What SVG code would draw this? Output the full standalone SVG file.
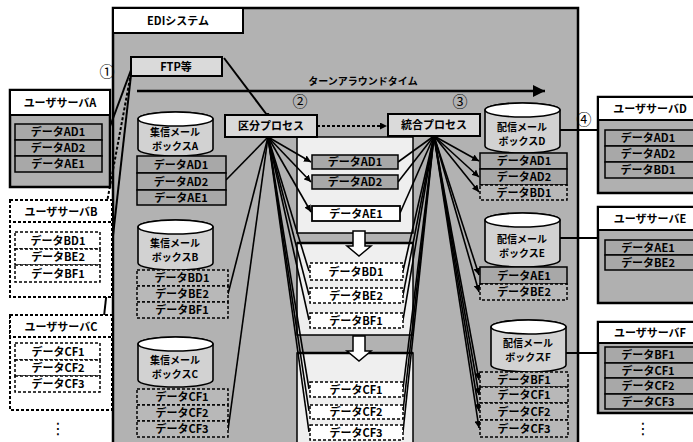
<svg xmlns="http://www.w3.org/2000/svg" width="693" height="442" viewBox="0 0 693 442">
<defs>
<marker id="ah" viewBox="0 0 10 10" refX="10" refY="5" markerWidth="7" markerHeight="7" orient="auto" markerUnits="userSpaceOnUse"><path d="M0,0 L10,5 L0,10 z" fill="#000"/></marker>
<marker id="ahb" viewBox="0 0 10 10" refX="10" refY="5" markerWidth="12" markerHeight="12" orient="auto" markerUnits="userSpaceOnUse"><path d="M0,0 L10,5 L0,10 z" fill="#000"/></marker>
<marker id="dot" viewBox="0 0 10 10" refX="5" refY="5" markerWidth="5" markerHeight="5" markerUnits="userSpaceOnUse"><circle cx="5" cy="5" r="5" fill="#000"/></marker>
</defs>
<style>
.t{font-family:"Noto Sans CJK JP","Noto Sans",sans-serif;font-weight:bold;font-size:11px;text-anchor:middle;fill:#000}
.s{font-size:10px}
.c{font-family:"Noto Sans CJK JP","DejaVu Sans",sans-serif;font-size:15px;text-anchor:middle;fill:#000}
.v{font-family:"DejaVu Sans",sans-serif;font-size:16px;text-anchor:middle;fill:#000}
.row{fill:#a8a8a8;stroke:#000;stroke-width:1.5}
.rowd{fill:#b8b8b8;stroke:#000;stroke-width:1.5;stroke-dasharray:3 2}
.roww{fill:#fff;stroke:#000;stroke-width:1.8}
.rowwd{fill:#fff;stroke:#000;stroke-width:1.5;stroke-dasharray:3 2}
.ttl{fill:#fff;stroke:#000;stroke-width:2}
.ttld{fill:#fff;stroke:#000;stroke-width:2;stroke-dasharray:3 2}
.body{fill:#b0b0b0;stroke:#000;stroke-width:2.5}
.bodyd{fill:#fff;stroke:#000;stroke-width:2;stroke-dasharray:3 2}
.cyl{fill:#d2d2d2;stroke:#000;stroke-width:1.6}
.cyltop{fill:#fff;stroke:#000;stroke-width:1.6}
.proc{fill:#dadada;stroke:#000;stroke-width:2}
.sec{fill:#efefef;stroke:#000;stroke-width:1.5}
.fan{stroke:#000;stroke-width:1.6;fill:none}
.ln{stroke:#000;stroke-width:2;fill:none}
</style>

<!-- EDI system frame -->
<g id="n-edi">
<rect x="113" y="8" width="465" height="445" fill="#b2b2b2" stroke="#000" stroke-width="2.5"/>
<rect x="113" y="8" width="130" height="25" class="ttl"/>
<text x="178" y="25" class="t">EDIシステム</text>
</g>

<!-- middle panel -->
<g id="n-panel">
<rect x="297" y="137" width="116" height="96" class="sec"/>
<rect x="297" y="243" width="116" height="92" class="sec"/>
<rect x="297" y="353" width="116" height="95" class="sec"/>
<line x1="297" y1="243" x2="413" y2="243" stroke="#000" stroke-width="2.5"/>
<line x1="297" y1="353" x2="413" y2="353" stroke="#000" stroke-width="2.5"/>
<path d="M353,231 H365 V246 H371 L359,256 L347,246 H353 Z" fill="#fff" stroke="#000" stroke-width="1.5"/>
<path d="M353,336 H365 V351 H371 L359,361 L347,351 H353 Z" fill="#fff" stroke="#000" stroke-width="1.5"/>
</g>

<!-- connectors -->
<g id="connectors">
<line x1="137" y1="91" x2="545" y2="91" stroke="#000" stroke-width="2.5" marker-end="url(#ahb)"/>
<line x1="224" y1="58" x2="267" y2="115" class="ln" marker-end="url(#dot)"/>
<line x1="131" y1="70" x2="102" y2="148" class="ln"/>
<line x1="131" y1="73" x2="100" y2="240" class="ln" stroke-dasharray="3 2"/>
<line x1="131" y1="75" x2="100" y2="352" class="ln"/>
<line x1="317" y1="126" x2="387" y2="126" class="ln" stroke-dasharray="3 2" marker-end="url(#ah)"/>
<!-- from sorting process -->
<line x1="268" y1="137" x2="226" y2="180" class="fan"/>
<line x1="268" y1="137" x2="228" y2="294" class="fan"/>
<line x1="268" y1="137" x2="228" y2="430" class="fan"/>
<line x1="268" y1="137" x2="311" y2="162" class="fan" marker-end="url(#ah)"/>
<line x1="268" y1="137" x2="311" y2="182" class="fan" marker-end="url(#ah)"/>
<line x1="268" y1="137" x2="311" y2="212" class="fan" marker-end="url(#ah)"/>
<line x1="268" y1="137" x2="309" y2="271" class="fan"/>
<line x1="268" y1="137" x2="309" y2="295" class="fan"/>
<line x1="268" y1="137" x2="309" y2="320" class="fan"/>
<line x1="268" y1="137" x2="309" y2="389" class="fan"/>
<line x1="268" y1="137" x2="309" y2="411" class="fan"/>
<line x1="268" y1="137" x2="309" y2="432" class="fan"/>
<!-- into integration process -->
<line x1="398" y1="162" x2="434" y2="136" class="fan"/>
<line x1="398" y1="182" x2="434" y2="136" class="fan"/>
<line x1="400" y1="213" x2="434" y2="136" class="fan"/>
<line x1="403" y1="271" x2="434" y2="136" class="fan"/>
<line x1="403" y1="295" x2="434" y2="136" class="fan"/>
<line x1="403" y1="320" x2="434" y2="136" class="fan"/>
<line x1="403" y1="389" x2="434" y2="136" class="fan"/>
<line x1="403" y1="411" x2="434" y2="136" class="fan"/>
<line x1="403" y1="432" x2="434" y2="136" class="fan"/>
<!-- to delivery mailboxes -->
<line x1="434" y1="136" x2="479" y2="161" class="fan" marker-end="url(#ah)"/>
<line x1="434" y1="136" x2="479" y2="177" class="fan" marker-end="url(#ah)"/>
<line x1="434" y1="136" x2="479" y2="192" class="fan" marker-end="url(#ah)"/>
<line x1="434" y1="136" x2="479" y2="275" class="fan" marker-end="url(#ah)"/>
<line x1="434" y1="136" x2="479" y2="292" class="fan" marker-end="url(#ah)"/>
<line x1="434" y1="136" x2="479" y2="380" class="fan" marker-end="url(#ah)"/>
<line x1="434" y1="136" x2="479" y2="395" class="fan" marker-end="url(#ah)"/>
<line x1="434" y1="136" x2="479" y2="411" class="fan" marker-end="url(#ah)"/>
<line x1="434" y1="136" x2="479" y2="428" class="fan" marker-end="url(#ah)"/>
<!-- to user servers -->
<line x1="560" y1="130" x2="598" y2="130" class="ln"/>
<line x1="560" y1="238" x2="598" y2="238" class="ln"/>
<line x1="566" y1="353" x2="598" y2="353" class="ln"/>
</g>

<!-- FTP -->
<g id="n-ftp">
<rect x="131" y="57" width="91" height="19" class="proc"/>
<text x="176" y="71" class="t">FTP等</text>
</g>

<!-- step numbers -->
<g id="n-steps">
<text x="107" y="77" class="c">①</text>
<text x="300" y="107" class="c">②</text>
<text x="460" y="107" class="c">③</text>
<text x="584" y="125" class="c">④</text>
<text x="363" y="85" class="t s">ターンアラウンドタイム</text>
</g>

<!-- processes -->
<g id="n-sort">
<rect x="225" y="115" width="92" height="22" class="proc"/>
<text x="271" y="130" class="t">区分プロセス</text>
</g>
<g id="n-merge">
<rect x="388" y="114" width="92" height="22" class="proc"/>
<text x="434" y="129" class="t">統合プロセス</text>
</g>

<!-- user server A -->
<g id="n-userA">
<rect x="10" y="90" width="100" height="97" class="body"/>
<rect x="10" y="90" width="100" height="25" class="ttl"/>
<text x="60" y="107" class="t">ユーザサーバA</text>
<rect x="15" y="124" width="87" height="16" class="row"/><text x="58" y="136" class="t">データAD1</text>
<rect x="15" y="140" width="87" height="16" class="row"/><text x="58" y="152" class="t">データAD2</text>
<rect x="15" y="156" width="87" height="16" class="row"/><text x="58" y="168" class="t">データAE1</text>
</g>
<!-- user server B -->
<g id="n-userB">
<rect x="10" y="200" width="102" height="97" class="bodyd"/>
<rect x="10" y="200" width="102" height="22" class="ttld"/>
<text x="61" y="216" class="t">ユーザサーバB</text>
<rect x="15" y="232" width="85" height="17" class="rowwd"/><text x="58" y="245" class="t">データBD1</text>
<rect x="15" y="249" width="85" height="16" class="rowwd"/><text x="58" y="261" class="t">データBE2</text>
<rect x="15" y="265" width="85" height="17" class="rowwd"/><text x="58" y="278" class="t">データBF1</text>
</g>
<!-- user server C -->
<g id="n-userC">
<rect x="10" y="315" width="102" height="95" class="bodyd"/>
<rect x="10" y="315" width="102" height="22" class="ttld"/>
<text x="61" y="331" class="t">ユーザサーバC</text>
<rect x="15" y="343" width="85" height="17" class="rowwd"/><text x="58" y="356" class="t">データCF1</text>
<rect x="15" y="360" width="85" height="16" class="rowwd"/><text x="58" y="372" class="t">データCF2</text>
<rect x="15" y="376" width="85" height="16" class="rowwd"/><text x="58" y="388" class="t">データCF3</text>
</g>
<text x="58" y="434" class="v">⋮</text>

<!-- collection mailboxes -->
<g id="n-mbA">
<path d="M138,119 A37.5,7 0 0 1 213,119 V149 A37.5,7 0 0 1 138,149 Z" class="cyl"/>
<ellipse cx="175.5" cy="119" rx="37.5" ry="7" class="cyltop"/>
<text x="175" y="136" class="t s">集信メール</text>
<text x="175" y="150" class="t s">ボックスA</text>
<rect x="137" y="156" width="89" height="17" class="row"/><text x="181" y="168.5" class="t">データAD1</text>
<rect x="137" y="173" width="89" height="17" class="row"/><text x="181" y="185.5" class="t">データAD2</text>
<rect x="137" y="190" width="89" height="15" class="row"/><text x="181" y="201.5" class="t">データAE1</text>
</g>
<g id="n-mbB">
<path d="M138,227 A37.5,7 0 0 1 213,227 V263 A37.5,7 0 0 1 138,263 Z" class="cyl"/>
<ellipse cx="175.5" cy="227" rx="37.5" ry="7" class="cyltop"/>
<text x="175" y="247" class="t s">集信メール</text>
<text x="175" y="261" class="t s">ボックスB</text>
<rect x="137" y="270" width="91" height="16" class="rowd"/><text x="182" y="282" class="t">データBD1</text>
<rect x="137" y="286" width="91" height="16" class="rowd"/><text x="182" y="298" class="t">データBE2</text>
<rect x="137" y="302" width="91" height="16" class="rowd"/><text x="182" y="314" class="t">データBF1</text>
</g>
<g id="n-mbC">
<path d="M138,344 A37.5,7 0 0 1 213,344 V380 A37.5,7 0 0 1 138,380 Z" class="cyl"/>
<ellipse cx="175.5" cy="344" rx="37.5" ry="7" class="cyltop"/>
<text x="175" y="364" class="t s">集信メール</text>
<text x="175" y="378" class="t s">ボックスC</text>
<rect x="137" y="389" width="91" height="16" class="rowd"/><text x="182" y="401" class="t">データCF1</text>
<rect x="137" y="405" width="91" height="16" class="rowd"/><text x="182" y="417" class="t">データCF2</text>
<rect x="137" y="421" width="91" height="16" class="rowd"/><text x="182" y="433" class="t">データCF3</text>
</g>

<!-- sorted data in middle -->
<g id="n-mid">
<rect x="312" y="155" width="86" height="14" class="row"/><text x="355" y="166" class="t">データAD1</text>
<rect x="312" y="175" width="86" height="14" class="row"/><text x="355" y="186" class="t">データAD2</text>
<rect x="312" y="206" width="88" height="15" class="roww"/><text x="356" y="218" class="t">データAE1</text>
<rect x="310" y="263" width="93" height="17" class="rowwd"/><text x="356" y="276" class="t">データBD1</text>
<rect x="310" y="288" width="93" height="15" class="rowwd"/><text x="356" y="300" class="t">データBE2</text>
<rect x="310" y="313" width="93" height="15" class="rowwd"/><text x="356" y="325" class="t">データBF1</text>
<rect x="310" y="382" width="93" height="15" class="rowwd"/><text x="356" y="394" class="t">データCF1</text>
<rect x="310" y="405" width="93" height="14" class="rowwd"/><text x="356" y="416" class="t">データCF2</text>
<rect x="310" y="425" width="93" height="15" class="rowwd"/><text x="356" y="437" class="t">データCF3</text>
</g>

<!-- delivery mailboxes -->
<g id="n-mbD">
<path d="M485,110 A37.5,7 0 0 1 560,110 V146 A37.5,7 0 0 1 485,146 Z" class="cyl"/>
<ellipse cx="522.5" cy="110" rx="37.5" ry="7" class="cyltop"/>
<text x="522" y="131" class="t s">配信メール</text>
<text x="522" y="145" class="t s">ボックスD</text>
<rect x="480" y="153" width="87" height="16" class="row"/><text x="524" y="165" class="t">データAD1</text>
<rect x="480" y="169" width="87" height="16" class="row"/><text x="524" y="181" class="t">データAD2</text>
<rect x="480" y="185" width="87" height="15" class="rowd"/><text x="524" y="196.5" class="t">データBD1</text>
</g>
<g id="n-mbE">
<path d="M485,220 A37.5,7 0 0 1 560,220 V260 A37.5,7 0 0 1 485,260 Z" class="cyl"/>
<ellipse cx="522.5" cy="220" rx="37.5" ry="7" class="cyltop"/>
<text x="522" y="243" class="t s">配信メール</text>
<text x="522" y="257" class="t s">ボックスE</text>
<rect x="480" y="267" width="87" height="17" class="row"/><text x="524" y="279.5" class="t">データAE1</text>
<rect x="480" y="284" width="87" height="16" class="rowd"/><text x="524" y="296" class="t">データBE2</text>
</g>
<g id="n-mbF">
<path d="M491,327 A37.5,7 0 0 1 566,327 V365 A37.5,7 0 0 1 491,365 Z" class="cyl"/>
<ellipse cx="528.5" cy="327" rx="37.5" ry="7" class="cyltop"/>
<text x="528" y="347" class="t s">配信メール</text>
<text x="528" y="361" class="t s">ボックスF</text>
<rect x="480" y="372" width="88" height="15" class="rowd"/><text x="524" y="383.5" class="t">データBF1</text>
<rect x="480" y="387" width="88" height="16" class="rowd"/><text x="524" y="399" class="t">データCF1</text>
<rect x="480" y="403" width="88" height="17" class="rowd"/><text x="524" y="415.5" class="t">データCF2</text>
<rect x="480" y="420" width="88" height="17" class="rowd"/><text x="524" y="432.5" class="t">データCF3</text>
</g>

<!-- user servers D, E, F -->
<g id="n-userD">
<rect x="598" y="97" width="110" height="96" class="body"/>
<rect x="598" y="97" width="110" height="23" class="ttl"/>
<text x="650" y="113" class="t">ユーザサーバD</text>
<rect x="605" y="130" width="100" height="16" class="row"/><text x="648" y="142" class="t">データAD1</text>
<rect x="605" y="146" width="100" height="16" class="row"/><text x="648" y="158" class="t">データAD2</text>
<rect x="605" y="162" width="100" height="16" class="row"/><text x="648" y="174" class="t">データBD1</text>
</g>
<g id="n-userE">
<rect x="598" y="207" width="110" height="96" class="body"/>
<rect x="598" y="207" width="110" height="23" class="ttl"/>
<text x="650" y="223" class="t">ユーザサーバE</text>
<rect x="605" y="240" width="100" height="15" class="row"/><text x="648" y="251.5" class="t">データAE1</text>
<rect x="605" y="255" width="100" height="15" class="row"/><text x="648" y="266.5" class="t">データBE2</text>
</g>
<g id="n-userF">
<rect x="598" y="322" width="110" height="91" class="body"/>
<rect x="598" y="322" width="110" height="21" class="ttl"/>
<text x="650" y="337" class="t">ユーザサーバF</text>
<rect x="605" y="347" width="100" height="16" class="row"/><text x="648" y="359" class="t">データBF1</text>
<rect x="605" y="363" width="100" height="15" class="row"/><text x="648" y="374.5" class="t">データCF1</text>
<rect x="605" y="378" width="100" height="16" class="row"/><text x="648" y="390" class="t">データCF2</text>
<rect x="605" y="394" width="100" height="15" class="row"/><text x="648" y="405.5" class="t">データCF3</text>
</g>
<text x="643" y="434" class="v">⋮</text>
</svg>
